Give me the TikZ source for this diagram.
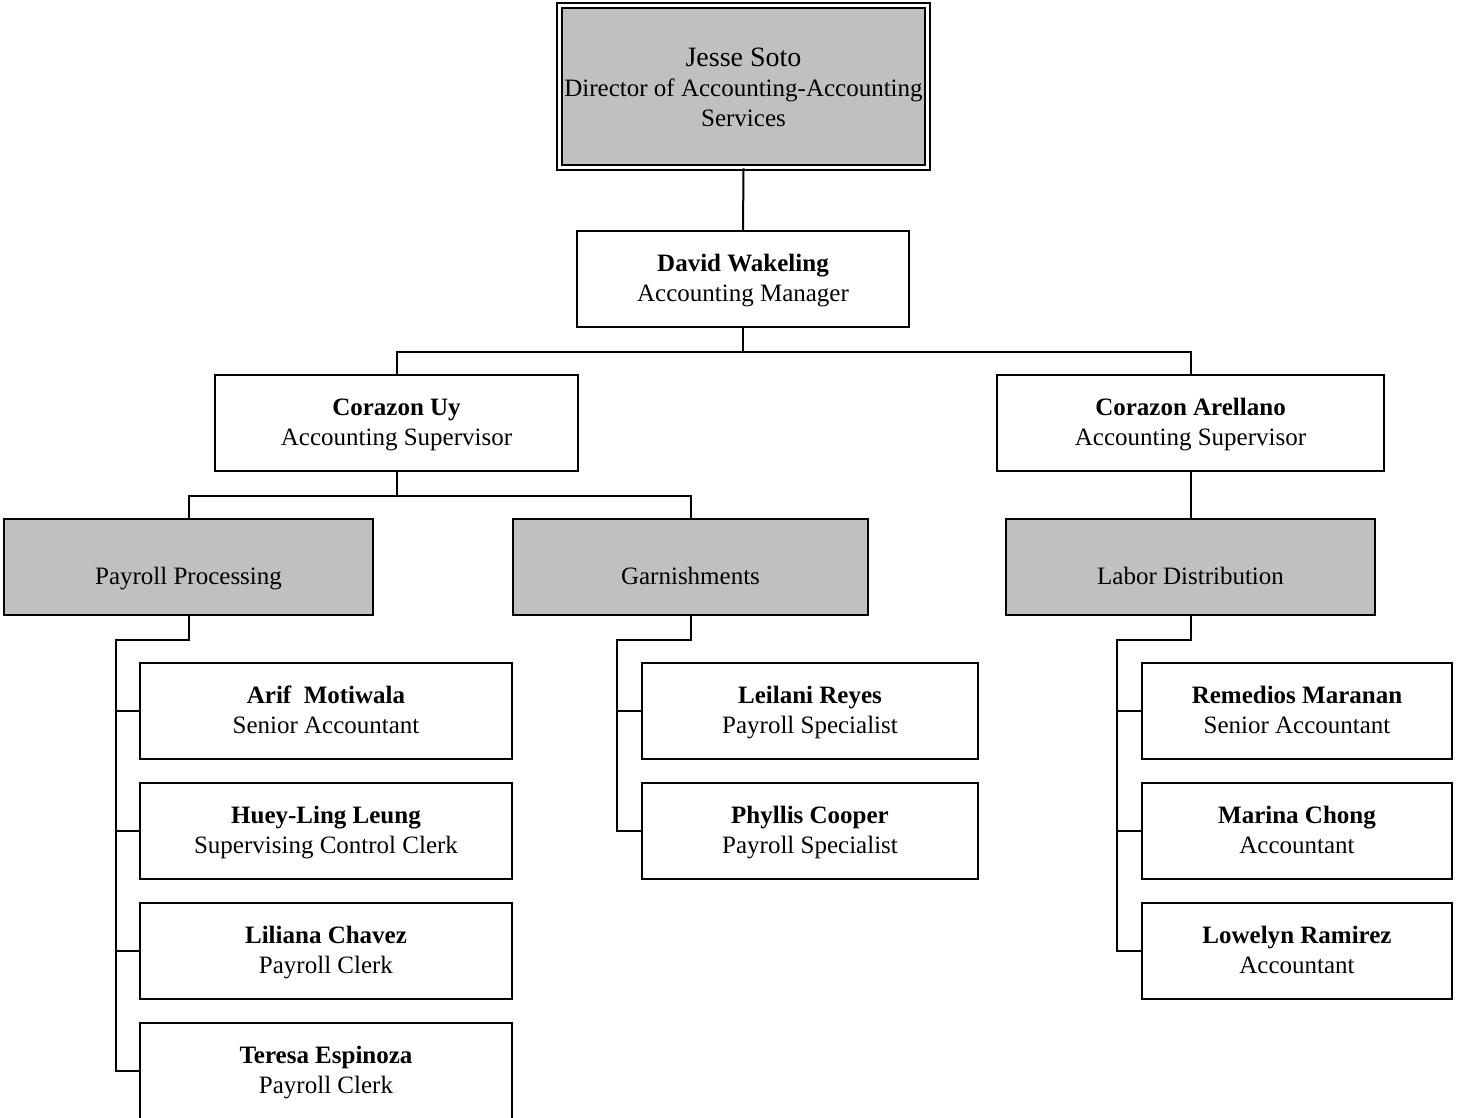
\documentclass[tikz,border=0pt]{standalone}
\usepackage{fontspec}
\setmainfont{Liberation Serif}
\definecolor{boxgray}{RGB}{192,192,192}
\begin{document}
\begin{tikzpicture}[x=1pt,y=-1pt,line width=2pt,
  box/.style={draw,rectangle,align=center,inner sep=0pt,minimum height=96pt,
    text height=45pt,text depth=1pt,font=\fontsize{25}{30}\selectfont},
  unit/.style={box,fill=boxgray,text height=35pt,text depth=1pt},
  head/.style={box,fill=boxgray,text height=83pt,text depth=3pt,
    double,line width=1.7pt,double distance=2.8pt}]
 \useasboundingbox (0,0) rectangle (1458,1118);
 \clip (0,0) rectangle (1458,1118);
 \node[head,minimum width=368pt,minimum height=162pt] (js) at (743.5,86.5)
   {{\fontsize{28}{30}\selectfont Jesse Soto}\\Director of Accounting-Accounting\\Services};
 \node[box,minimum width=332pt] (dw) at (743,279) {\textbf{David Wakeling}\\Accounting Manager};
 \node[box,minimum width=363pt] (cu) at (396.5,423) {\textbf{Corazon Uy}\\Accounting Supervisor};
 \node[box,minimum width=387pt] (ca) at (1190.5,423) {\textbf{Corazon Arellano}\\Accounting Supervisor};
 \node[unit,minimum width=369pt] (pp) at (188.5,567) {Payroll Processing};
 \node[unit,minimum width=355pt] (ga) at (690.5,567) {Garnishments};
 \node[unit,minimum width=369pt] (ld) at (1190.5,567) {Labor Distribution};
 % payroll processing staff
 \node[box,minimum width=372pt] (am) at (326,711) {\textbf{Arif\ \ Motiwala}\\Senior Accountant};
 \node[box,minimum width=372pt] (hl) at (326,831) {\textbf{Huey-Ling Leung}\\Supervising Control Clerk};
 \node[box,minimum width=372pt] (lc) at (326,951) {\textbf{Liliana Chavez}\\Payroll Clerk};
 \node[box,minimum width=372pt] (te) at (326,1071) {\textbf{Teresa Espinoza}\\Payroll Clerk};
 % garnishments staff
 \node[box,minimum width=336pt] (lr) at (810,711) {\textbf{Leilani Reyes}\\Payroll Specialist};
 \node[box,minimum width=336pt] (pc) at (810,831) {\textbf{Phyllis Cooper}\\Payroll Specialist};
 % labor distribution staff
 \node[box,minimum width=310pt] (rm) at (1297,711) {\textbf{Remedios Maranan}\\Senior Accountant};
 \node[box,minimum width=310pt] (mc) at (1297,831) {\textbf{Marina Chong}\\Accountant};
 \node[box,minimum width=310pt] (lo) at (1297,951) {\textbf{Lowelyn Ramirez}\\Accountant};
 % connectors
 \draw (js.south) -- (dw.north);
 \draw (dw.south) -- ++(0,24) -| (cu.north);
 \draw (dw.south) -- ++(0,24) -| (ca.north);
 \draw (cu.south) -- ++(0,24) -| (pp.north);
 \draw (cu.south) -- ++(0,24) -| (ga.north);
 \draw (ca.south) -- (ld.north);
 \draw (pp.south) -- ++(0,24) -| ([xshift=-23pt]te.west) -- (te.west);
 \draw ([xshift=-23pt]am.west) -- (am.west);
 \draw ([xshift=-23pt]hl.west) -- (hl.west);
 \draw ([xshift=-23pt]lc.west) -- (lc.west);
 \draw (ga.south) -- ++(0,24) -| ([xshift=-24pt]pc.west) -- (pc.west);
 \draw ([xshift=-24pt]lr.west) -- (lr.west);
 \draw (ld.south) -- ++(0,24) -| ([xshift=-24pt]lo.west) -- (lo.west);
 \draw ([xshift=-24pt]rm.west) -- (rm.west);
 \draw ([xshift=-24pt]mc.west) -- (mc.west);
\end{tikzpicture}
\end{document}
